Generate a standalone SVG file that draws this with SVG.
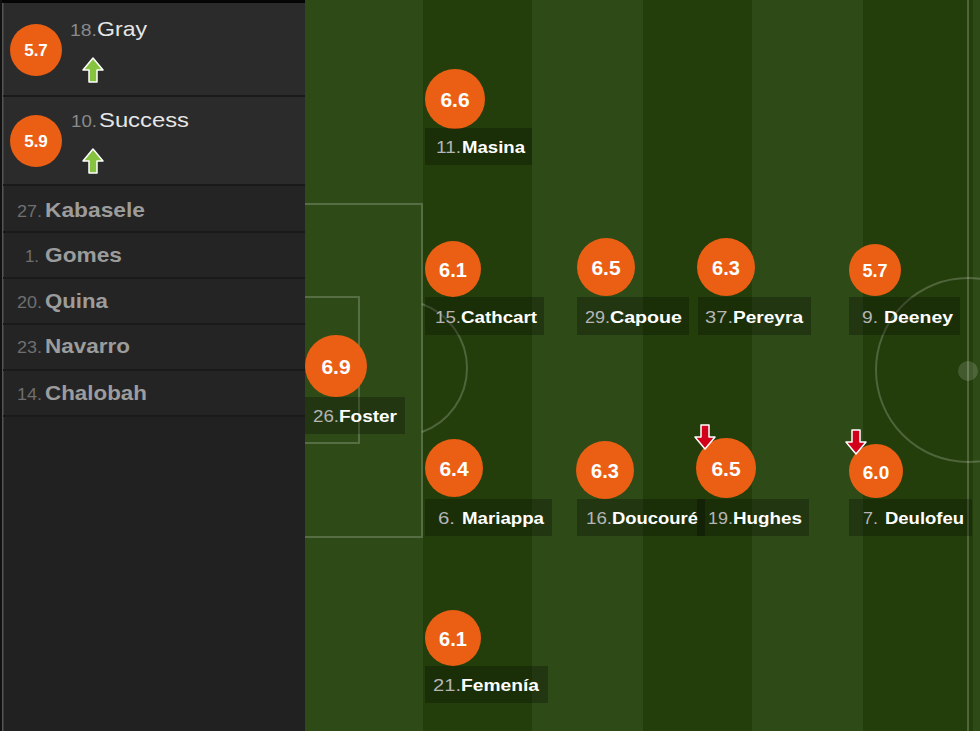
<svg xmlns="http://www.w3.org/2000/svg" width="980" height="731" viewBox="0 0 980 731">
<style>
.lt{fill:#2e4a17}
.dk{fill:#233e0b}
.ln{fill:none;stroke:#ffffff;stroke-opacity:0.2;stroke-width:2}
.rt{fill:#eb5f14}
.rv{fill:#fff;font-family:"Liberation Sans",Arial,sans-serif;font-weight:bold;text-anchor:middle}
.box{fill:#000;fill-opacity:0.25}
.num{fill:#b5b5b5;font-family:"Liberation Sans",Arial,sans-serif;font-size:16px}
.nm{fill:#fff;font-family:"Liberation Sans",Arial,sans-serif;font-size:16px;font-weight:bold}
.pnum{fill:#8a8a8a;font-family:"Liberation Sans",Arial,sans-serif;font-size:16px}
.pnm{fill:#e6e6e6;font-family:"Liberation Sans",Arial,sans-serif;font-size:21px}
.lnum{fill:#6f6f6f;font-family:"Liberation Sans",Arial,sans-serif;font-size:16px}
.lnm{fill:#9c9c9c;font-family:"Liberation Sans",Arial,sans-serif;font-size:21px;font-weight:bold}
.div{stroke:#1a1a1a;stroke-width:2}
.up{fill:#86c440;stroke:#ffffff;stroke-width:1.5;stroke-linejoin:round}
.down{fill:#d3001c;stroke:#ffffff;stroke-width:1.5;stroke-linejoin:round}
</style>
<defs>
<path id="arrowUp" d="M0,-12 L10,0 L4,0 L4,12 L-4,12 L-4,0 L-10,0 Z"/>
<path id="arrowDown" d="M0,12 L10,0 L4,0 L4,-12 L-4,-12 L-4,0 L-10,0 Z"/>
</defs>

<!-- Pitch -->
<g id="pitch">
<rect x="305" y="0" width="675" height="731" class="lt"/>
<rect x="423" y="0" width="109" height="731" class="dk"/>
<rect x="643" y="0" width="109" height="731" class="dk"/>
<rect x="863" y="0" width="110" height="731" class="dk"/>
<path class="ln" d="M305,204 H422 V537 H305"/>
<path class="ln" d="M305,297 H359 V443 H305"/>
<path class="ln" d="M422,304 A68,68 0 0 1 422,432"/>
<line class="ln" x1="968" y1="0" x2="968" y2="731"/>
<circle class="ln" cx="968" cy="370" r="92"/>
<circle cx="968" cy="371" r="10" fill="#ffffff" fill-opacity="0.15"/>
</g>

<!-- Bench panel -->
<g id="panel">
<rect x="0" y="0" width="305" height="731" fill="#212121"/>
<rect x="0" y="3" width="305" height="182" fill="#2b2b2b"/>
<rect x="0" y="185" width="305" height="231" fill="#242424"/>
<rect x="0" y="0" width="305" height="3" fill="#050505"/>
<rect x="0" y="0" width="2" height="731" fill="#111"/>
<rect x="2" y="3" width="1.5" height="728" fill="#555"/>
<line class="div" x1="3" y1="96" x2="305" y2="96"/>
<line class="div" x1="3" y1="185" x2="305" y2="185"/>
<line class="div" x1="3" y1="232" x2="305" y2="232"/>
<line class="div" x1="3" y1="278" x2="305" y2="278"/>
<line class="div" x1="3" y1="324" x2="305" y2="324"/>
<line class="div" x1="3" y1="370" x2="305" y2="370"/>
<line class="div" x1="3" y1="416" x2="305" y2="416"/>
</g>

<g id="sub-gray">
<circle class="rt" cx="36" cy="50" r="26"/>
<text class="rv" x="36" y="56" font-size="17">5.7</text>
<text class="pnum" x="70" y="36" textLength="27" lengthAdjust="spacingAndGlyphs">18.</text>
<text class="pnm" x="97" y="36" textLength="50" lengthAdjust="spacingAndGlyphs">Gray</text>
<use href="#arrowUp" class="up" x="93" y="70"/>
</g>
<g id="sub-success">
<circle class="rt" cx="36" cy="141" r="26"/>
<text class="rv" x="36" y="147" font-size="17">5.9</text>
<text class="pnum" x="71" y="127" textLength="26" lengthAdjust="spacingAndGlyphs">10.</text>
<text class="pnm" x="99" y="127" textLength="90" lengthAdjust="spacingAndGlyphs">Success</text>
<use href="#arrowUp" class="up" x="93" y="161"/>
</g>
<g id="bench-kabasele">
<text class="lnum" x="17" y="217" textLength="25" lengthAdjust="spacingAndGlyphs">27.</text>
<text class="lnm" x="45" y="217" textLength="100" lengthAdjust="spacingAndGlyphs">Kabasele</text>
</g>
<g id="bench-gomes">
<text class="lnum" x="25" y="262" textLength="14" lengthAdjust="spacingAndGlyphs">1.</text>
<text class="lnm" x="45" y="262" textLength="77" lengthAdjust="spacingAndGlyphs">Gomes</text>
</g>
<g id="bench-quina">
<text class="lnum" x="17" y="308" textLength="25" lengthAdjust="spacingAndGlyphs">20.</text>
<text class="lnm" x="45" y="308" textLength="63" lengthAdjust="spacingAndGlyphs">Quina</text>
</g>
<g id="bench-navarro">
<text class="lnum" x="17" y="353" textLength="25" lengthAdjust="spacingAndGlyphs">23.</text>
<text class="lnm" x="45" y="353" textLength="85" lengthAdjust="spacingAndGlyphs">Navarro</text>
</g>
<g id="bench-chalobah">
<text class="lnum" x="17" y="400" textLength="25" lengthAdjust="spacingAndGlyphs">14.</text>
<text class="lnm" x="45" y="400" textLength="102" lengthAdjust="spacingAndGlyphs">Chalobah</text>
</g>

<!-- Players on pitch -->
<g id="player-masina">
<circle class="rt" cx="455" cy="99" r="30"/>
<text class="rv" x="455" y="107" font-size="21">6.6</text>
<rect class="box" x="425" y="128" width="107" height="37"/>
<text class="num" x="436" y="153" textLength="25" lengthAdjust="spacingAndGlyphs">11.</text>
<text class="nm" x="462" y="153" textLength="63" lengthAdjust="spacingAndGlyphs">Masina</text>
</g>
<g id="player-cathcart">
<circle class="rt" cx="453" cy="269" r="28"/>
<text class="rv" x="453" y="277" font-size="20">6.1</text>
<rect class="box" x="425" y="297" width="119" height="38"/>
<text class="num" x="435" y="323" textLength="26" lengthAdjust="spacingAndGlyphs">15.</text>
<text class="nm" x="461" y="323" textLength="76" lengthAdjust="spacingAndGlyphs">Cathcart</text>
</g>
<g id="player-capoue">
<circle class="rt" cx="606" cy="267" r="29"/>
<text class="rv" x="606" y="275" font-size="21">6.5</text>
<rect class="box" x="577" y="297" width="112" height="38"/>
<text class="num" x="585" y="323" textLength="25" lengthAdjust="spacingAndGlyphs">29.</text>
<text class="nm" x="610" y="323" textLength="72" lengthAdjust="spacingAndGlyphs">Capoue</text>
</g>
<g id="player-pereyra">
<circle class="rt" cx="726" cy="267" r="29"/>
<text class="rv" x="726" y="275" font-size="20">6.3</text>
<rect class="box" x="698" y="297" width="113" height="38"/>
<text class="num" x="705" y="323" textLength="28" lengthAdjust="spacingAndGlyphs">37.</text>
<text class="nm" x="733" y="323" textLength="70" lengthAdjust="spacingAndGlyphs">Pereyra</text>
</g>
<g id="player-deeney">
<circle class="rt" cx="875" cy="270" r="26"/>
<text class="rv" x="875" y="277" font-size="18">5.7</text>
<rect class="box" x="849" y="297" width="111" height="38"/>
<text class="num" x="862" y="323" textLength="16" lengthAdjust="spacingAndGlyphs">9.</text>
<text class="nm" x="884" y="323" textLength="69" lengthAdjust="spacingAndGlyphs">Deeney</text>
</g>
<g id="player-foster">
<circle class="rt" cx="336" cy="366" r="31"/>
<text class="rv" x="336" y="374" font-size="21">6.9</text>
<rect class="box" x="305" y="397" width="100" height="37"/>
<text class="num" x="313" y="422" textLength="26" lengthAdjust="spacingAndGlyphs">26.</text>
<text class="nm" x="339" y="422" textLength="58" lengthAdjust="spacingAndGlyphs">Foster</text>
</g>
<g id="player-mariappa">
<circle class="rt" cx="454" cy="468" r="29"/>
<text class="rv" x="454" y="476" font-size="21">6.4</text>
<rect class="box" x="425" y="499" width="127" height="37"/>
<text class="num" x="438" y="524" textLength="17" lengthAdjust="spacingAndGlyphs">6.</text>
<text class="nm" x="462" y="524" textLength="82" lengthAdjust="spacingAndGlyphs">Mariappa</text>
</g>
<g id="player-doucoure">
<circle class="rt" cx="605" cy="470" r="29"/>
<text class="rv" x="605" y="478" font-size="20">6.3</text>
<rect class="box" x="577" y="499" width="128" height="37"/>
<text class="num" x="586" y="524" textLength="26" lengthAdjust="spacingAndGlyphs">16.</text>
<text class="nm" x="612" y="524" textLength="86" lengthAdjust="spacingAndGlyphs">Doucouré</text>
</g>
<g id="player-hughes">
<circle class="rt" cx="726" cy="468" r="30"/>
<text class="rv" x="726" y="476" font-size="21">6.5</text>
<rect class="box" x="697" y="499" width="112" height="37"/>
<text class="num" x="708" y="524" textLength="25" lengthAdjust="spacingAndGlyphs">19.</text>
<text class="nm" x="733" y="524" textLength="69" lengthAdjust="spacingAndGlyphs">Hughes</text>
<use href="#arrowDown" class="down" x="705" y="437"/>
</g>
<g id="player-deulofeu">
<circle class="rt" cx="876" cy="471" r="27"/>
<text class="rv" x="876" y="479" font-size="19">6.0</text>
<rect class="box" x="849" y="499" width="123" height="37"/>
<text class="num" x="863" y="524" textLength="15" lengthAdjust="spacingAndGlyphs">7.</text>
<text class="nm" x="885" y="524" textLength="79" lengthAdjust="spacingAndGlyphs">Deulofeu</text>
<use href="#arrowDown" class="down" x="856" y="442"/>
</g>
<g id="player-femenia">
<circle class="rt" cx="453" cy="638" r="28"/>
<text class="rv" x="453" y="646" font-size="20">6.1</text>
<rect class="box" x="425" y="666" width="123" height="37"/>
<text class="num" x="433" y="691" textLength="28" lengthAdjust="spacingAndGlyphs">21.</text>
<text class="nm" x="461" y="691" textLength="78" lengthAdjust="spacingAndGlyphs">Femenía</text>
</g>

<g id="connectors"></g>
</svg>
